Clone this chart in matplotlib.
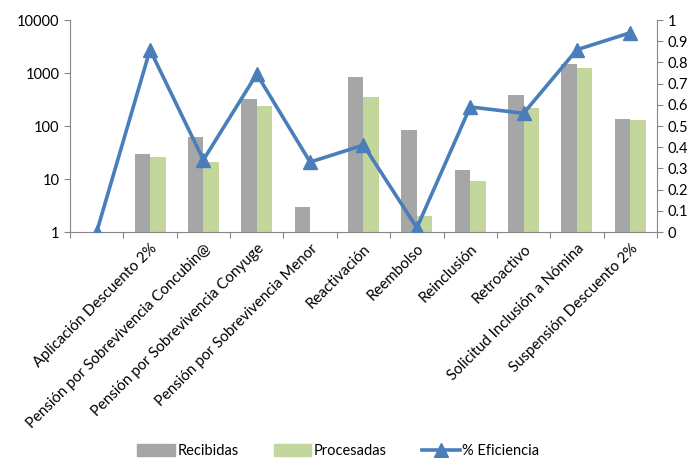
import numpy as np
import matplotlib.pyplot as plt
from matplotlib.lines import Line2D
from matplotlib.patches import Patch

plt.rcParams['font.family'] = ['Lato', 'DejaVu Sans']

# Data
categories = ['', 'Aplicación Descuento 2%', 'Pensión por Sobrevivencia Concubin@',
              'Pensión por Sobrevivencia Conyuge', 'Pensión por Sobrevivencia Menor',
              'Reactivación', 'Reembolso', 'Reinclusión', 'Retroactivo',
              'Solicitud Inclusión a Nómina', 'Suspensión Descuento 2%']
recibidas = [np.nan, 30, 62, 323, 3, 840, 83, 15, 380, 1480, 137]
procesadas = [np.nan, 26, 21, 238, 1, 357, 2, 9, 215, 1260, 130]
eficiencia = [0, 0.86, 0.34, 0.745, 0.33, 0.41, 0.02, 0.59, 0.56, 0.86, 0.94]

c_rec = '#A6A6A6'
c_pro = '#C3D69B'
c_line = '#4A7EBB'
c_axis = '#868686'

fig = plt.figure(figsize=(6.97, 4.58), dpi=100)
ax = fig.add_axes([0.1004, 0.4934, 0.8422, 0.4629])
ax2 = ax.twinx()

x = np.arange(len(categories))
w = 0.29
ax.set_yscale('log')
ax.bar(x - w / 2, recibidas, w, color=c_rec, zorder=2)
ax.bar(x + w / 2, procesadas, w, color=c_pro, zorder=2)
ax.set_ylim(1, 10000)
ax.set_xlim(-0.5, len(categories) - 0.5)
ax.set_yticks([1, 10, 100, 1000, 10000])
ax.set_yticklabels(['1', '10', '100', '1000', '10000'])
ax.yaxis.set_minor_locator(plt.NullLocator())

ax2.plot(x, eficiencia, color=c_line, lw=2.6, marker='^', ms=10, zorder=3)
ax2.set_ylim(0, 1)
ax2.set_yticks(np.arange(0, 1.01, 0.1))
ax2.set_yticklabels(['0', '0.1', '0.2', '0.3', '0.4', '0.5', '0.6', '0.7', '0.8', '0.9', '1'])

# category ticks between groups
ax.set_xticks(np.arange(-0.5, len(categories), 1))
ax.set_xticklabels([])
ax.set_xticks(x, minor=True)
ax.set_xticklabels(categories, minor=True, rotation=45, ha='right',
                   rotation_mode='anchor', fontsize=10.8)
ax.tick_params(axis='x', which='minor', length=0, pad=7)
ax.tick_params(axis='x', which='major', length=4, color=c_axis, direction='out')

for a in (ax, ax2):
    a.spines['top'].set_visible(False)
    for s in ('left', 'right', 'bottom'):
        a.spines[s].set_color(c_axis)
    a.tick_params(axis='y', length=4, color=c_axis, labelsize=10.5)
ax.spines['right'].set_visible(False)
ax2.spines['left'].set_visible(False)
ax2.spines['bottom'].set_visible(False)

handles = [Patch(color=c_rec), Patch(color=c_pro),
           Line2D([], [], color=c_line, lw=2.6, marker='^', ms=10)]
fig.legend(handles, ['Recibidas', 'Procesadas', '% Eficiencia'], loc='center',
           bbox_to_anchor=(0.485, 0.015), ncol=3, frameon=False, fontsize=10.5,
           handlelength=2.6, handleheight=0.8, columnspacing=2.4, handletextpad=0.15)

fig.savefig('out.png', dpi=100)
